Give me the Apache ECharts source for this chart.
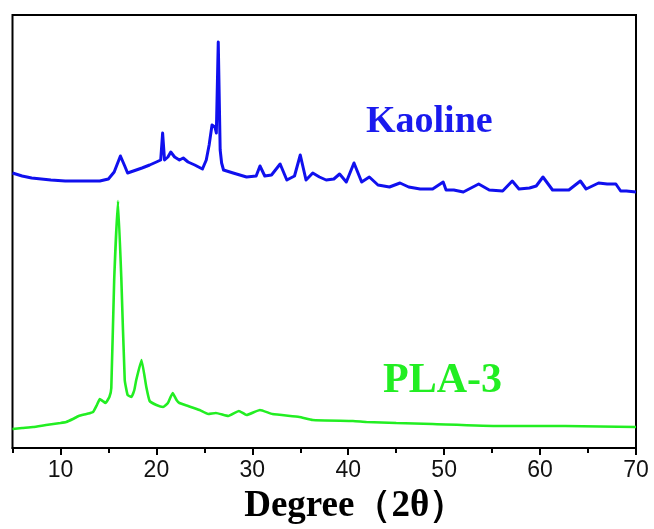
<!DOCTYPE html>
<html>
<head>
<meta charset="utf-8">
<script src="https://cdn.jsdelivr.net/npm/echarts@6/dist/echarts.min.js"></script>
<style>
html,body{margin:0;padding:0;background:#fff;}
#chart{width:654px;height:529px;}
</style>
</head>
<body>
<div id="chart"></div>
<script>
// Kaoline XRD pattern (2θ in degrees, intensity in arbitrary units)
var kaolineX = [5.0,6.0,7.0,8.0,9.0,10.5,12.0,13.0,14.1,15.0,15.6,16.25,16.7,17.0,17.6,18.5,19.3,20.0,20.45,20.65,20.85,21.2,21.5,21.9,22.4,22.8,23.3,24.0,24.8,25.2,25.5,25.8,26.1,26.25,26.45,26.65,26.8,27.0,28.0,29.4,30.4,30.8,31.3,32.0,32.9,33.6,34.4,35.0,35.6,36.3,37.0,37.7,38.5,39.1,39.8,40.6,41.4,42.2,43.1,44.3,45.4,46.3,47.5,48.8,49.9,50.2,51.0,52.0,53.6,54.7,56.1,57.1,57.8,58.9,59.6,60.3,61.3,62.0,63.0,64.2,64.8,66.1,67.0,67.9,68.4,69.0,70.0];
var kaolineY = [275,272,270,269,268,267,267,267,267,269,276,292,282,275,277,280,283,286,288,315,288,291,296,291,288,290,286,283,279,288,303,323,321,315,406,298,285,278,275,271,272,282,272,273,284,268,272,293,268,275,271,268,269,274,266,285,266,271,263,261,265,261,259,259,266,258,258,256,264,258,257,267,259,260,262,271,258,258,258,267,259,265,264,264,257,257,256];
// PLA-3 XRD pattern
var plaX = [5.0,6.0,7.15,8.5,10.0,10.6,11.3,11.9,12.7,13.4,13.8,14.1,14.4,14.7,15.1,15.3,15.6,16.0,16.35,16.7,17.0,17.4,17.7,17.9,18.45,18.95,19.3,20.0,20.7,21.2,21.7,22.1,22.4,23.3,24.5,25.4,26.2,27.5,28.6,29.4,30.8,32.1,34.9,36.3,40.5,41.9,45.0,48.8,55.7,62.6,70.0];
var plaY = [19,20,21,23,25,26,29,32,34,36,43,49,47,45,51,60,168,247,168,68,53,51,58,68,88,61,47,43,41,45,55,48,45,42,38,34,35,32,37,33,38,34,31,28,27,26,25,24,22,22,21];
var xLabelValues = [10,20,30,40,50,60,70];
var xMinorValues = [5,15,25,35,45,55,65];
var seriesNames = ['Kaoline','PLA-3'];
var axisTitle = 'Degree（2θ）';

function zip(xs, ys){ var out=[]; for(var i=0;i<xs.length;i++){ out.push([xs[i], ys[i]]); } return out; }

var chart = echarts.init(document.getElementById('chart'), null, {renderer:'canvas'});
chart.setOption({
  animation:false,
  backgroundColor:'#ffffff',
  grid:{left:12.5, right:18, top:15, bottom:81, show:true, borderColor:'#000', borderWidth:2, backgroundColor:'transparent', containLabel:false, outerBoundsMode:'none'},
  xAxis:[{
    type:'value', min:5, max:70,
    axisLine:{show:true, onZero:false, lineStyle:{color:'#000', width:2}},
    axisTick:{show:true, inside:false, length:7, lineStyle:{color:'#000', width:2}, customValues:xLabelValues},
    axisLabel:{show:true, margin:11, fontSize:23, color:'#111', fontFamily:'Liberation Sans, Arial, sans-serif', customValues:xLabelValues, hideOverlap:false},
    splitLine:{show:false},
    name:axisTitle, nameLocation:'middle', nameGap:40,
    nameTextStyle:{fontSize:37, fontWeight:'bold', color:'#000', fontFamily:'Liberation Serif, Times New Roman, serif', padding:[0,0,0,62]}
  },{
    type:'value', min:5, max:70, position:'bottom', gridIndex:0,
    axisLine:{show:false},
    axisTick:{show:true, inside:false, length:5, lineStyle:{color:'#000', width:2}, customValues:xMinorValues},
    axisLabel:{show:false},
    splitLine:{show:false}
  }],
  yAxis:{
    type:'value', min:0, max:433,
    axisLine:{show:false}, axisTick:{show:false}, axisLabel:{show:false}, splitLine:{show:false}
  },
  series:[{
    name:seriesNames[0], type:'line', xAxisIndex:0, data:zip(kaolineX,kaolineY),
    showSymbol:false, symbol:'none', smooth:false,
    lineStyle:{color:'#1010ee', width:3, join:'round'}
  },{
    name:seriesNames[1], type:'line', xAxisIndex:0, data:zip(plaX,plaY),
    showSymbol:false, symbol:'none', smooth:0.12,
    lineStyle:{color:'#22ee22', width:2.6}
  }],
  graphic:[{
    type:'text', left:366, top:103,
    style:{text:seriesNames[0], fill:'#1a1aee', font:'bold 38px "Liberation Serif", "Times New Roman", serif'}
  },{
    type:'text', left:383, top:360,
    style:{text:seriesNames[1], fill:'#22ee22', font:'bold 42px "Liberation Serif", "Times New Roman", serif'}
  }]
});
</script>
</body>
</html>
